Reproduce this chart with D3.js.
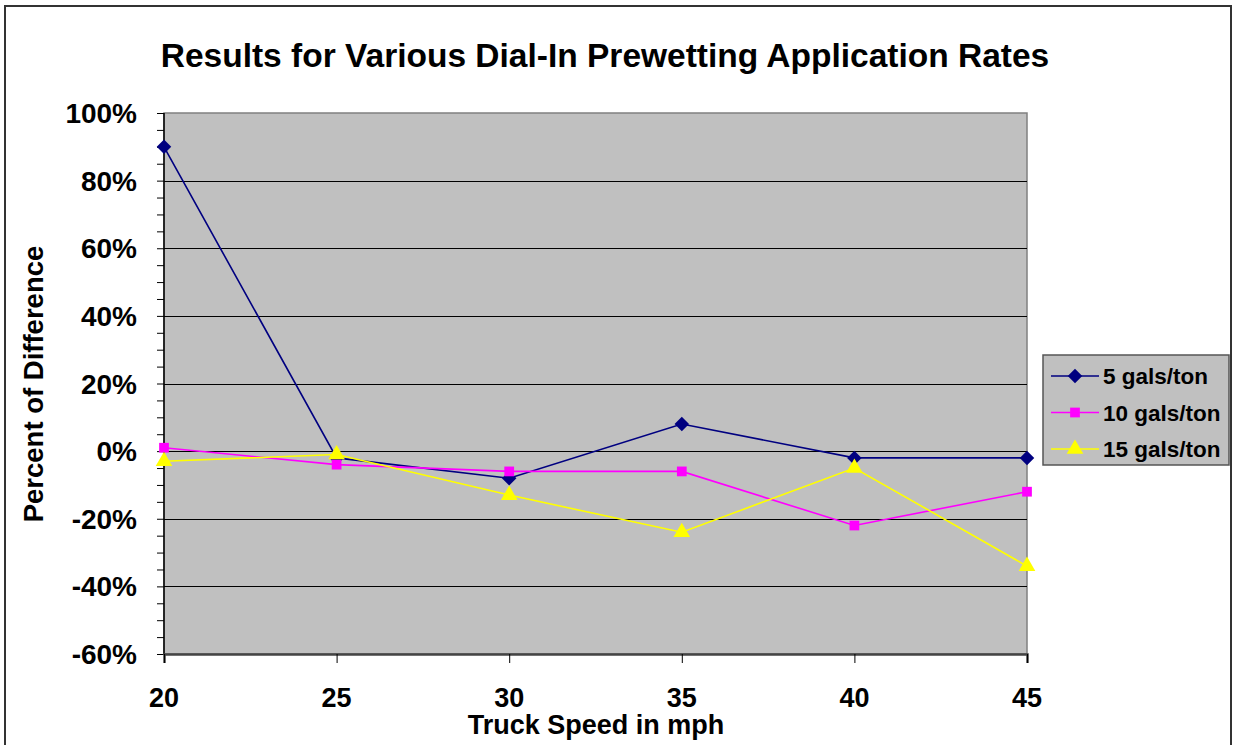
<!DOCTYPE html>
<html>
  <head>
    <meta charset="UTF-8">
    <title>Dial-In Prewetting Application Rates</title>
    <style>
    body {
      margin: 0;
      background: #fff;
    }
    svg text {
      font-family: Arial, "Liberation Sans", sans-serif;
      font-weight: bold;
      fill: #000;
    }
    .grid line {
      stroke: #000;
      stroke-width: 1px;
    }
    .series {
      fill: none;
      stroke-width: 1.6px;
    }
    </style>
  </head>
  <body>
    <svg width="1233" height="745"></svg>
    <script src="https://d3js.org/d3.v7.min.js"></script>
    <script>
// chart data
var speeds = [20, 25, 30, 35, 40, 45];
var seriesNames = ["5 gals/ton", "10 gals/ton", "15 gals/ton"];
var gals5  = [90, -2, -8, 8, -2, -2];
var gals10 = [1, -4, -6, -6, -22, -12];
var gals15 = [-3, -1, -13, -24, -5, -34];
var yTicks = [-60, -40, -20, 0, 20, 40, 60, 80, 100];

var colors = ["#000080", "#ff00ff", "#ffff00"],
    shapes = [d3.symbolSquare, d3.symbolSquare, d3.symbolTriangle],
    symSizes = [105, 95, 120],
    rotations = [45, 0, 0];

var series = [gals5, gals10, gals15].map((vals, i) => ({
  name: seriesNames[i],
  color: colors[i],
  shape: shapes[i],
  size: symSizes[i],
  rot: rotations[i],
  values: vals.map((v, j) => ({x: speeds[j], y: v}))
}));

var svg = d3.select("svg"),
    plot = {left: 164, right: 1027, top: 113, bottom: 654};

var x = d3.scalePoint()
    .domain(speeds)
    .range([plot.left, plot.right]);

var y = d3.scaleLinear()
    .domain([-60, 100])
    .range([plot.bottom, plot.top]);

// outer chart border
svg.append("rect")
    .attr("x", 5).attr("y", 6)
    .attr("width", 1226).attr("height", 760)
    .attr("fill", "#fff")
    .attr("stroke", "#333")
    .attr("stroke-width", 2);

// title
svg.append("text")
    .attr("x", 605).attr("y", 67)
    .attr("text-anchor", "middle")
    .style("font-size", "33.5px")
    .text("Results for Various Dial-In Prewetting Application Rates");

// plot area
svg.append("rect")
    .attr("x", plot.left).attr("y", plot.top)
    .attr("width", plot.right - plot.left)
    .attr("height", plot.bottom - plot.top)
    .attr("fill", "#c0c0c0")
    .attr("stroke", "#808080")
    .attr("stroke-width", 1.5);

// gridlines
svg.append("g")
    .attr("class", "grid")
  .selectAll("line")
  .data(yTicks.filter(d => d > -60 && d < 100))
  .join("line")
    .attr("x1", plot.left).attr("x2", plot.right)
    .attr("y1", d => Math.round(y(d)) + 0.5)
    .attr("y2", d => Math.round(y(d)) + 0.5);

// y axis
var yAxis = svg.append("g")
    .attr("transform", "translate(" + plot.left + ",0)");

yAxis.append("g")
    .call(d3.axisLeft(y).ticks(40).tickSize(7).tickFormat(""))
    .call(g => g.select(".domain").remove())
    .call(g => g.selectAll("line").attr("stroke", "#000"));

yAxis.append("line")
    .attr("y1", plot.top).attr("y2", plot.bottom)
    .attr("stroke", "#000").attr("stroke-width", 1.5);

yAxis.selectAll("text.ylab")
  .data(yTicks)
  .join("text")
    .attr("class", "ylab")
    .attr("x", -27)
    .attr("y", d => y(d) + 10)
    .attr("text-anchor", "end")
    .style("font-size", "28px")
    .text(d => d + "%");

// x axis
var xAxis = svg.append("g")
    .attr("transform", "translate(0," + plot.bottom + ")");

xAxis.call(d3.axisBottom(x).tickSize(9).tickFormat(""))
    .call(g => g.select(".domain").attr("stroke", "#444").attr("stroke-width", 2.5))
    .call(g => g.selectAll("line").attr("stroke", "#000"));

xAxis.selectAll("text.xlab")
  .data(speeds)
  .join("text")
    .attr("class", "xlab")
    .attr("x", d => x(d))
    .attr("y", 53)
    .attr("text-anchor", "middle")
    .style("font-size", "27px")
    .text(d => d);

// axis titles
svg.append("text")
    .attr("x", 596).attr("y", 734)
    .attr("text-anchor", "middle")
    .style("font-size", "27px")
    .text("Truck Speed in mph");

svg.append("text")
    .attr("transform", "translate(43,384) rotate(-90)")
    .attr("text-anchor", "middle")
    .style("font-size", "27.5px")
    .text("Percent of Difference");

// lines and markers
var line = d3.line()
    .x(d => x(d.x))
    .y(d => y(d.y));

var seriesG = svg.append("g")
  .selectAll("g")
  .data(series)
  .join("g");

seriesG.append("path")
    .attr("class", "series")
    .attr("stroke", d => d.color)
    .attr("d", d => line(d.values));

seriesG.selectAll("path.marker")
  .data(d => d.values.map(v => Object.assign({s: d}, v)))
  .join("path")
    .attr("class", "marker")
    .attr("transform", d => "translate(" + x(d.x) + "," + y(d.y) + ") rotate(" + d.s.rot + ")")
    .attr("d", d => d3.symbol(d.s.shape, d.s.size)())
    .attr("fill", d => d.s.color);

// legend
var legend = svg.append("g")
    .attr("transform", "translate(1043,355)");

legend.append("rect")
    .attr("width", 186).attr("height", 110)
    .attr("fill", "#c0c0c0")
    .attr("stroke", "#555")
    .attr("stroke-width", 1.5);

var item = legend.selectAll("g.item")
  .data(series)
  .join("g")
    .attr("class", "item")
    .attr("transform", (d, i) => "translate(0," + (21 + i * 36.5) + ")");

item.append("line")
    .attr("x1", 8).attr("x2", 56)
    .attr("stroke", d => d.color)
    .attr("stroke-width", 1.6);

item.append("path")
    .attr("transform", d => "translate(32,0) rotate(" + d.rot + ")")
    .attr("d", d => d3.symbol(d.shape, d.size)())
    .attr("fill", d => d.color);

item.append("text")
    .attr("x", 60).attr("y", 8)
    .style("font-size", "22.5px")
    .text(d => d.name);
    </script>
  </body>
</html>
